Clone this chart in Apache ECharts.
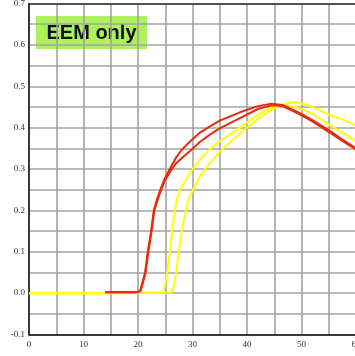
<!DOCTYPE html>
<html>
<head>
<meta charset="utf-8">
<script src="https://cdn.jsdelivr.net/npm/echarts@6/dist/echarts.min.js"></script>
<style>
  html, body { margin: 0; padding: 0; background: #fff; }
  #chart { width: 355px; height: 356px; }
</style>
</head>
<body>
<div id="chart"></div>
<script>
// Response curves: [time, signal]
const redEarly = [
  [14, 0.002], [15, 0.002], [16, 0.003], [17, 0.002], [18, 0.003], [19, 0.002], [20, 0.003],
  [20.4, 0.006], [20.9, 0.03], [21.3, 0.05], [21.8, 0.10], [22.4, 0.15], [22.9, 0.20],
  [23.5, 0.227], [24.1, 0.25], [24.8, 0.274], [25.9, 0.302], [27.0, 0.328], [28.0, 0.346],
  [29.5, 0.366], [31.4, 0.388], [33.2, 0.403], [35, 0.417], [38.7, 0.437], [42, 0.452],
  [44.5, 0.458], [46.5, 0.455], [48, 0.446], [49.7, 0.435], [52, 0.418], [55.2, 0.392],
  [57.5, 0.371], [60, 0.35]
];
const redLate = [
  [14, 0.002], [15, 0.003], [16, 0.002], [17, 0.003], [18, 0.002], [19, 0.003], [20, 0.002],
  [20.5, 0.006], [21.0, 0.03], [21.4, 0.05], [21.9, 0.10], [22.5, 0.15], [23.0, 0.20],
  [23.6, 0.225], [24.2, 0.248], [24.9, 0.271], [26.0, 0.296], [27.0, 0.314], [28.0, 0.326],
  [29.5, 0.343], [31.4, 0.366], [33.2, 0.383], [35, 0.398], [38.7, 0.423], [42, 0.445],
  [44.5, 0.454], [46.5, 0.452], [48, 0.443], [49.7, 0.432], [52, 0.415], [55.2, 0.388],
  [57.5, 0.368], [60, 0.347]
];
const yellowEarly = [
  [0, 0], [5, 0], [10, 0], [15, 0], [20, 0.001], [24.6, 0.002], [25.0, 0.02], [25.3, 0.048],
  [25.9, 0.104], [26.4, 0.169], [27.1, 0.225], [27.7, 0.249], [29.5, 0.29], [31.4, 0.324],
  [33.2, 0.348], [35, 0.367], [38.7, 0.40], [42.4, 0.435], [44.5, 0.449], [46.5, 0.455],
  [48, 0.452], [49.7, 0.447], [52.5, 0.43], [55.2, 0.406], [57.5, 0.388], [60, 0.368]
];
const yellowLate = [
  [0, 0], [5, 0], [10, 0], [15, 0], [20, 0], [25, 0.001], [26.2, 0.002], [26.6, 0.02],
  [27.0, 0.048], [27.5, 0.104], [28.3, 0.169], [29.2, 0.225], [30.1, 0.25], [31.4, 0.283],
  [33.2, 0.315], [35, 0.342], [38.7, 0.386], [42.4, 0.426], [45, 0.447], [47, 0.457],
  [48.8, 0.462], [50.5, 0.457], [52.5, 0.447], [55.2, 0.43], [57.5, 0.42], [60, 0.406]
];

const xRange = [0, 60];
const yRange = [-0.1, 0.7];
const titleText = 'EEM only';

const RED = '#ea2a0c';
const YELLOW = '#ffff00';

const chart = echarts.init(document.getElementById('chart'), null, { renderer: 'canvas' });

function lineSeries(data, color) {
  return {
    type: 'line',
    data: data,
    showSymbol: false,
    smooth: false,
    z: 3,
    lineStyle: { color: color, width: 2 },
    animation: false
  };
}

chart.setOption({
  animation: false,
  grid: {
    left: 29, top: 3.5, width: 327, height: 331,
    containLabel: false,
    outerBoundsMode: 'none'
  },
  xAxis: [{
    type: 'value',
    min: xRange[0],
    max: xRange[1],
    interval: 5,
    axisLine: { show: true, onZero: false, lineStyle: { color: '#111', width: 1.5 } },
    axisTick: { show: false },
    splitLine: { show: true, lineStyle: { color: '#a3a3a3', width: 1.6 } },
    axisLabel: {
      margin: 6,
      fontFamily: 'Liberation Serif',
      fontSize: 9,
      color: '#333',
      hideOverlap: false,
      formatter: v => (Math.round(v) % 10 === 0 ? String(Math.round(v)) : '')
    }
  }, {
    type: 'value',
    position: 'top',
    min: xRange[0],
    max: xRange[1],
    axisLine: { show: true, onZero: false, lineStyle: { color: '#333', width: 1.5 } },
    axisTick: { show: false },
    axisLabel: { show: false },
    splitLine: { show: false }
  }],
  yAxis: {
    type: 'value',
    min: yRange[0],
    max: yRange[1],
    interval: 0.05,
    axisLine: { show: true, onZero: false, lineStyle: { color: '#111', width: 1.5 } },
    axisTick: { show: false },
    splitLine: { show: true, lineStyle: { color: '#a3a3a3', width: 1.6 } },
    axisLabel: {
      margin: 4,
      fontFamily: 'Liberation Serif',
      fontSize: 9,
      color: '#333',
      formatter: v => {
        const t = v * 10;
        return Math.abs(t - Math.round(t)) < 1e-6 ? (Math.round(t) / 10).toFixed(1) : '';
      }
    }
  },
  series: [
    lineSeries(yellowEarly, YELLOW),
    lineSeries(yellowLate, YELLOW),
    lineSeries(redEarly, RED),
    lineSeries(redLate, RED)
  ],
  graphic: [{
    type: 'group',
    left: 36,
    top: 16,
    z: 10,
    children: [{
      type: 'rect',
      shape: { x: 0, y: 0, width: 111, height: 33 },
      style: { fill: '#adf25c' }
    }, {
      type: 'text',
      x: 55.5,
      y: 17,
      style: {
        text: titleText,
        fill: '#111',
        font: 'bold 20px "Liberation Sans", Arial, sans-serif',
        textAlign: 'center',
        textVerticalAlign: 'middle'
      }
    }]
  }]
});
</script>
</body>
</html>
